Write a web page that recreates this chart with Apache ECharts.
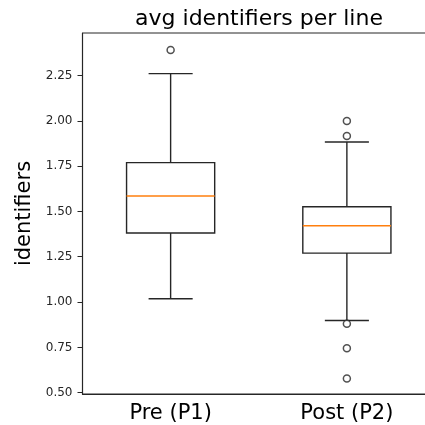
<!DOCTYPE html>
<html>
<head>
<meta charset="utf-8">
<script src="https://cdn.jsdelivr.net/npm/echarts@6/dist/echarts.min.js"></script>
<style>
  html, body { margin: 0; padding: 0; background: #fff; overflow: hidden; }
  /* la zone de tracé dépasse à droite, comme sur l'original */
  #chart { width: 436px; height: 425px; }
</style>
</head>
<body>
<div id="chart"></div>
<script>
// groupes et statistiques
const categories = ['Pre (P1)', 'Post (P2)'];
const whiskerLow = [1.018, 0.898];
const q1 = [1.381, 1.270];
const median = [1.585, 1.421];
const q3 = [1.769, 1.526];
const whiskerHigh = [2.26, 1.883];
const preOutliers = [2.39];
const postOutliers = [1.998, 1.916, 0.881, 0.745, 0.579];
const yTicks = [0.5, 0.75, 1.0, 1.25, 1.5, 1.75, 2.0, 2.25];

const FONT = 'DejaVu Sans';
const INK = '#262626';

const boxData = categories.map((c, i) => [i, whiskerLow[i], q1[i], median[i], q3[i], whiskerHigh[i]]);
const outlierData = []
  .concat(preOutliers.map(v => [0, v]))
  .concat(postOutliers.map(v => [1, v]));

function renderBox(params, api) {
    const idx = api.value(0);
    const band = api.size([1, 0])[0];
    const pt = v => api.coord([idx, v]);
    const cx = pt(api.value(1))[0];
    const boxW = band * 0.5;
    const capW = band * 0.25;
    const yLow = pt(api.value(1))[1];
    const yQ1 = pt(api.value(2))[1];
    const yMed = pt(api.value(3))[1];
    const yQ3 = pt(api.value(4))[1];
    const yHigh = pt(api.value(5))[1];
    const line = { stroke: INK, lineWidth: 1.4 };
    return {
        type: 'group',
        children: [
            { type: 'line', shape: { x1: cx, y1: yQ1, x2: cx, y2: yLow }, style: line },
            { type: 'line', shape: { x1: cx, y1: yQ3, x2: cx, y2: yHigh }, style: line },
            { type: 'line', shape: { x1: cx - capW / 2, y1: yLow, x2: cx + capW / 2, y2: yLow }, style: line },
            { type: 'line', shape: { x1: cx - capW / 2, y1: yHigh, x2: cx + capW / 2, y2: yHigh }, style: line },
            { type: 'rect', shape: { x: cx - boxW / 2, y: yQ3, width: boxW, height: yQ1 - yQ3 },
              style: { fill: 'none', stroke: INK, lineWidth: 1.4 } },
            { type: 'line', shape: { x1: cx - boxW / 2, y1: yMed, x2: cx + boxW / 2, y2: yMed },
              style: { stroke: '#ff7f0e', lineWidth: 1.4 } }
        ]
    };
}

const chart = echarts.init(document.getElementById('chart'), null, { renderer: 'canvas' });

chart.setOption({
    animation: false,
    backgroundColor: '#fff',
    title: {
        text: 'avg identifiers per line',
        left: 254,
        top: 3,
        textAlign: 'center',
        textStyle: { fontFamily: FONT, fontSize: 22, fontWeight: 'normal', color: '#000' }
    },
    grid: {
        left: 82.5,
        right: 1,
        top: 33,
        bottom: 31,
        show: true,
        borderColor: INK,
        borderWidth: 1,
        containLabel: false
    },
    xAxis: {
        type: 'category',
        data: categories,
        boundaryGap: true,
        axisLine: { lineStyle: { color: INK, width: 1.2 } },
        axisTick: { alignWithLabel: true, length: 5, lineStyle: { color: INK } },
        axisLabel: { fontFamily: FONT, fontSize: 21, color: '#000', margin: 9 },
        splitLine: { show: false }
    },
    yAxis: {
        type: 'value',
        min: 0.493,
        max: 2.484,
        name: 'identifiers',
        nameLocation: 'middle',
        nameRotate: 90,
        nameGap: 44,
        nameTextStyle: { fontFamily: FONT, fontSize: 21, color: '#000' },
        axisLine: { show: true, lineStyle: { color: INK, width: 1.2 } },
        axisTick: { show: true, length: 5, customValues: yTicks, lineStyle: { color: INK } },
        axisLabel: {
            fontFamily: FONT, fontSize: 12, color: '#262626', margin: 10,
            customValues: yTicks,
            formatter: v => v.toFixed(2)
        },
        splitLine: { show: false }
    },
    series: [
        {
            type: 'custom',
            renderItem: renderBox,
            data: boxData,
            encode: { x: 0, y: [1, 2, 3, 4, 5] },
            z: 2
        },
        {
            type: 'scatter',
            data: outlierData,
            symbol: 'circle',
            symbolSize: 7,
            itemStyle: { color: '#fff', borderColor: INK, borderWidth: 1.5 },
            z: 3
        }
    ]
});
</script>
</body>
</html>
